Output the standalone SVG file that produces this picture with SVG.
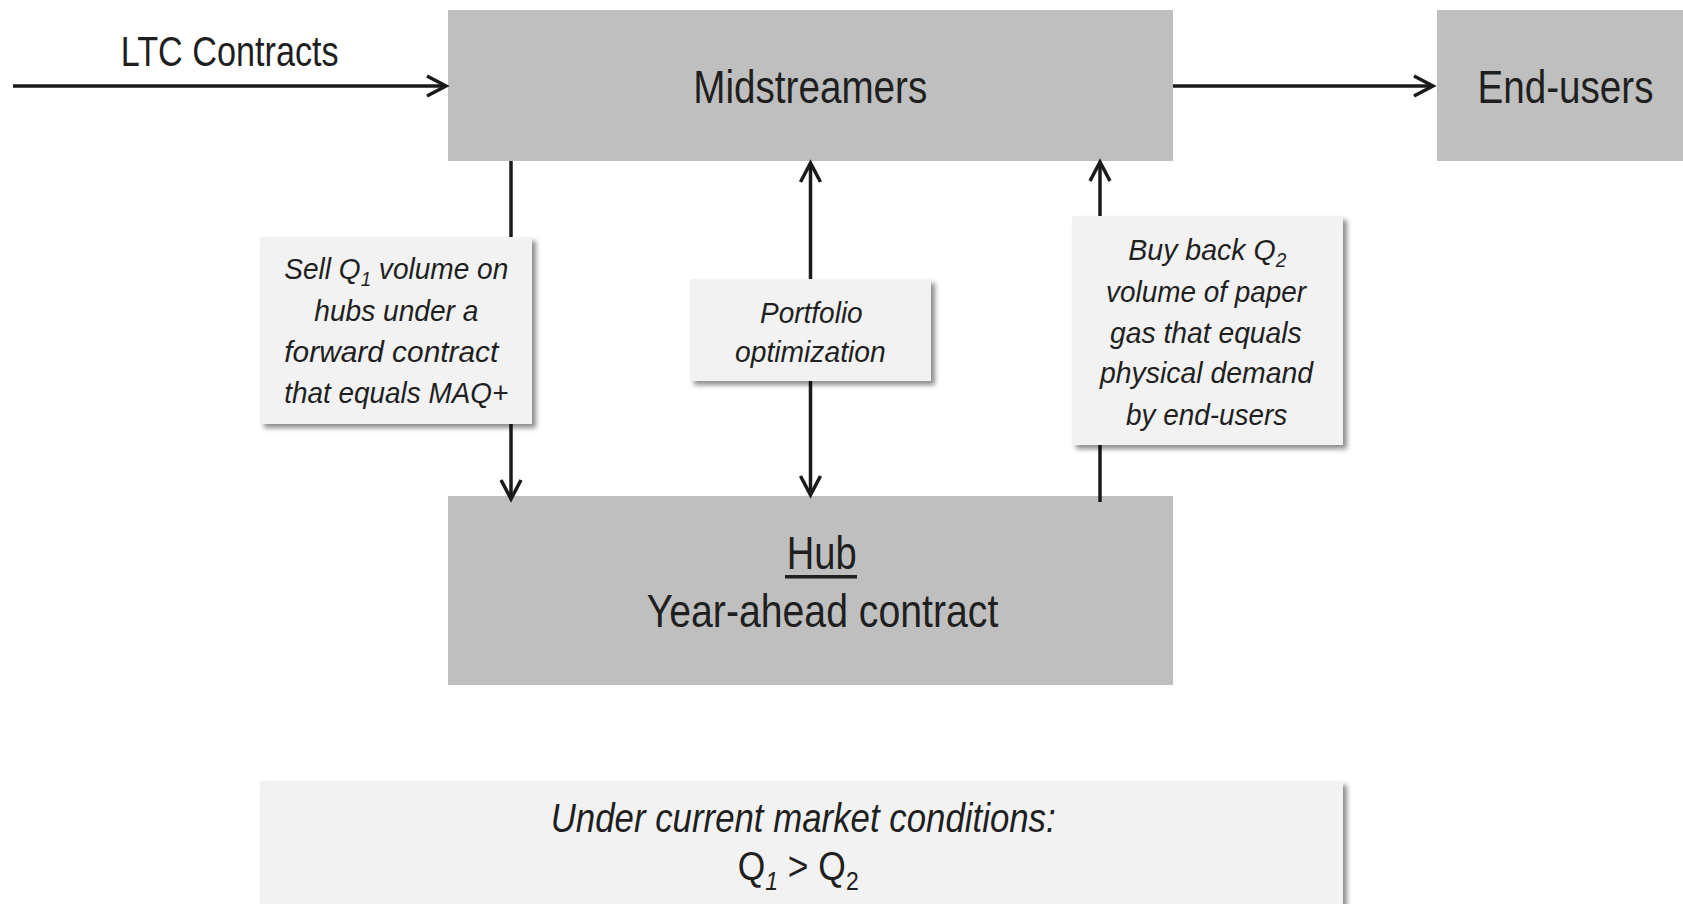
<svg xmlns="http://www.w3.org/2000/svg" width="1683" height="904" viewBox="0 0 1683 904">
<defs>
<style>
.box{fill:#bfbfbf;}
.lbl{fill:#f2f2f2;filter:url(#sh);}
.t{font-family:"Liberation Sans Narrow","Liberation Sans",Arial,sans-serif;fill:#1f1f1f;}
.big{font-size:46px;}
.it{font-size:30px;font-style:italic;}
.conn line,.conn polyline{stroke:#1a1a1a;stroke-width:3.5;fill:none;}
.conn polyline{stroke-linejoin:miter;}
</style>
<filter id="sh" x="-10%" y="-10%" width="125%" height="130%">
<feDropShadow dx="4" dy="4" stdDeviation="2.5" flood-color="#000" flood-opacity="0.45"/>
</filter>
</defs>
<rect width="1683" height="904" fill="#ffffff"/>

<g id="midstreamers">
<rect class="box" x="448" y="10" width="725" height="151"/>
<text class="t big" x="693.3" y="103.3" textLength="234" lengthAdjust="spacingAndGlyphs">Midstreamers</text>
</g>
<g id="end-users">
<rect class="box" x="1437" y="10" width="246" height="151"/>
<text class="t big" x="1477.5" y="103.3" textLength="176" lengthAdjust="spacingAndGlyphs">End-users</text>
</g>
<g id="hub">
<rect class="box" x="448" y="496" width="725" height="189"/>
<text class="t" font-size="47" x="786.7" y="569.3" textLength="70" lengthAdjust="spacingAndGlyphs">Hub</text>
<rect x="785" y="575" width="72" height="3.5" fill="#1f1f1f"/>
<text class="t" font-size="47" x="646.7" y="627.3" textLength="351.6" lengthAdjust="spacingAndGlyphs">Year-ahead contract</text>
</g>

<g id="connectors" class="conn">
<line x1="13" y1="86" x2="445" y2="86"/>
<polyline points="427,76 446,86 427,96"/>
<line x1="1173" y1="86" x2="1432" y2="86"/>
<polyline points="1414,76 1433,86 1414,96"/>
<line x1="511" y1="161" x2="511" y2="498"/>
<polyline points="501,480 511,499 521,480"/>
<line x1="810.5" y1="164" x2="810.5" y2="494"/>
<polyline points="800.5,182 810.5,163 820.5,182"/>
<polyline points="800.5,476 810.5,495 820.5,476"/>
<line x1="1100" y1="502" x2="1100" y2="163"/>
<polyline points="1090,181 1100,162 1110,181"/>
</g>

<g id="ltc-label">
<text class="t" font-size="42" x="120.7" y="66" textLength="218" lengthAdjust="spacingAndGlyphs">LTC Contracts</text>
</g>

<g id="sell">
<rect class="lbl" x="260" y="237" width="272" height="187"/>
<text class="t it" x="284.3" y="279.3" textLength="224" lengthAdjust="spacingAndGlyphs">Sell Q<tspan font-size="20" dy="7">1</tspan><tspan dy="-7"> volume on</tspan></text>
<text class="t it" x="314.3" y="320.7" textLength="164" lengthAdjust="spacingAndGlyphs">hubs under a</text>
<text class="t it" x="284.3" y="361.7" textLength="214" lengthAdjust="spacingAndGlyphs">forward contract</text>
<text class="t it" x="284.3" y="402.7" textLength="224" lengthAdjust="spacingAndGlyphs">that equals MAQ+</text>
</g>

<g id="portfolio">
<rect class="lbl" x="690" y="279" width="241" height="102"/>
<text class="t it" x="760" y="323.3" textLength="102.7" lengthAdjust="spacingAndGlyphs">Portfolio</text>
<text class="t it" x="735" y="361.7" textLength="150.7" lengthAdjust="spacingAndGlyphs">optimization</text>
</g>

<g id="buyback">
<rect class="lbl" x="1072" y="216" width="271" height="229"/>
<text class="t it" x="1128.3" y="260" textLength="158" lengthAdjust="spacingAndGlyphs">Buy back Q<tspan font-size="20" dy="7">2</tspan></text>
<text class="t it" x="1106" y="301.7" textLength="200" lengthAdjust="spacingAndGlyphs">volume of paper</text>
<text class="t it" x="1110" y="343.3" textLength="191.7" lengthAdjust="spacingAndGlyphs">gas that equals</text>
<text class="t it" x="1100" y="383.3" textLength="213" lengthAdjust="spacingAndGlyphs">physical demand</text>
<text class="t it" x="1126" y="425" textLength="161.3" lengthAdjust="spacingAndGlyphs">by end-users</text>
</g>

<g id="conditions">
<rect class="lbl" x="260" y="781" width="1083" height="140"/>
<text class="t" font-size="40" font-style="italic" x="550.7" y="831.7" textLength="505" lengthAdjust="spacingAndGlyphs">Under current market conditions:</text>
<text class="t" font-size="40" x="737.7" y="880" textLength="121" lengthAdjust="spacingAndGlyphs">Q<tspan font-size="26" font-style="italic" dy="10">1</tspan><tspan dy="-10"> &gt; Q</tspan><tspan font-size="26" dy="10">2</tspan></text>
</g>
</svg>
